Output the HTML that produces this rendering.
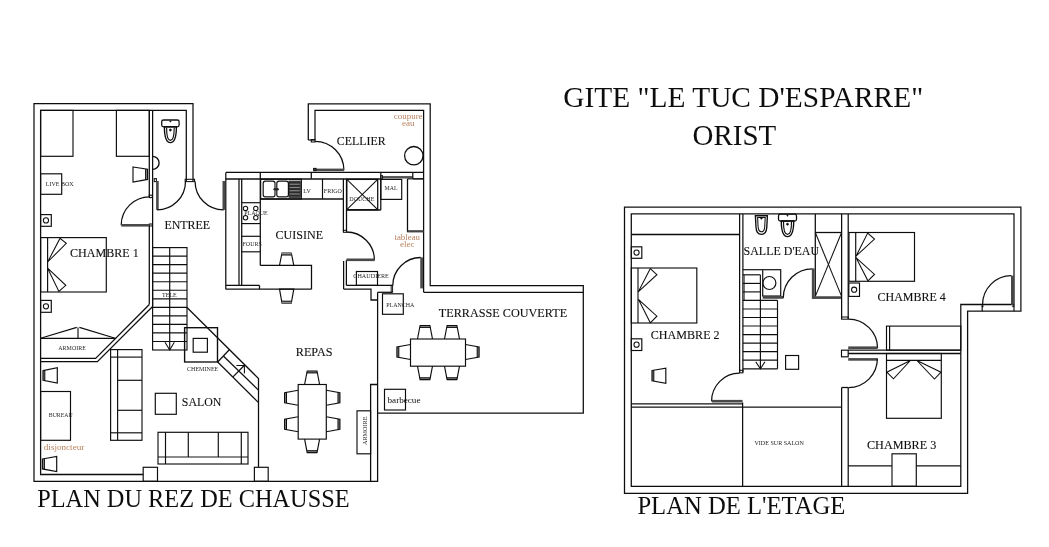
<!DOCTYPE html>
<html><head><meta charset="utf-8"><title>Plan</title>
<style>
html,body{margin:0;padding:0;background:#fff;}
body{width:1049px;height:547px;overflow:hidden;}
svg{display:block;}
text{font-family:"Liberation Serif",serif;}
</style></head><body>
<svg width="1049" height="547" viewBox="0 0 1049 547" style="will-change:transform">
<rect x="0" y="0" width="1049" height="547" fill="#fff"/>
<defs><filter id="soft" x="0" y="0" width="100%" height="100%" filterUnits="userSpaceOnUse"><feGaussianBlur stdDeviation="0.3"/></filter></defs>
<g filter="url(#soft)">
<polyline points="193,181 193,103.7 34,103.7 34,481.3 377.6,481.3 377.6,292.3" fill="none" stroke="#111" stroke-width="1.26" stroke-linejoin="miter"/>
<polyline points="186.3,181 186.3,110.4 40.6,110.4 40.6,474.5 143.2,474.5" fill="none" stroke="#111" stroke-width="1.26" stroke-linejoin="miter"/>
<rect x="185.2" y="179.3" width="9.400000000000006" height="2.299999999999983" rx="0" fill="none" stroke="#111" stroke-width="1.05"/>
<line x1="152.6" y1="110.4" x2="152.6" y2="306.5" stroke="#111" stroke-width="1.26"/>
<line x1="149.3" y1="110.4" x2="149.3" y2="197" stroke="#111" stroke-width="1.26"/>
<line x1="149.3" y1="225" x2="149.3" y2="304.5" stroke="#111" stroke-width="1.26"/>
<rect x="149.3" y="195.2" width="3.0" height="2.4000000000000057" rx="0" fill="none" stroke="#111" stroke-width="1.05"/>
<rect x="149.3" y="224" width="3.0" height="2" rx="0" fill="none" stroke="#111" stroke-width="1.05"/>
<polyline points="149.3,304.5 95.6,358.4 40.6,358.4" fill="none" stroke="#111" stroke-width="1.26" stroke-linejoin="miter"/>
<polyline points="152.6,306.5 97.4,361.6 40.6,361.6" fill="none" stroke="#111" stroke-width="1.26" stroke-linejoin="miter"/>
<path d="M149.60,196.80 A28.4,28.4 0 0 0 121.20,225.20" fill="none" stroke="#111" stroke-width="1.26"/>
<line x1="121.3" y1="225.3" x2="149.3" y2="225.3" stroke="#4a4a4a" stroke-width="2.62"/>
<rect x="154.2" y="178.6" width="2.200000000000017" height="3.0" rx="0" fill="none" stroke="#111" stroke-width="1.05"/>
<line x1="157.4" y1="181" x2="157.4" y2="209.9" stroke="#4a4a4a" stroke-width="2.62"/>
<path d="M157.00,209.90 A28.5,28.5 0 0 0 185.50,181.40" fill="none" stroke="#111" stroke-width="1.26"/>
<line x1="223.8" y1="181" x2="223.8" y2="209.9" stroke="#4a4a4a" stroke-width="2.62"/>
<path d="M223.60,209.90 A28.5,28.5 0 0 1 195.10,181.40" fill="none" stroke="#111" stroke-width="1.26"/>
<text x="164.4" y="229.2" font-size="13" fill="#111" stroke="#111" stroke-width="0.12" text-anchor="start" textLength="45.7" lengthAdjust="spacingAndGlyphs">ENTREE</text>
<rect x="40.6" y="110.4" width="32.4" height="45.900000000000006" rx="0" fill="none" stroke="#111" stroke-width="1.16"/>
<rect x="116.4" y="110.4" width="32.900000000000006" height="45.900000000000006" rx="0" fill="none" stroke="#111" stroke-width="1.16"/>
<rect x="40.6" y="173.8" width="21.1" height="20.5" rx="0" fill="none" stroke="#111" stroke-width="1.16"/>
<text x="45.7" y="186.4" font-size="7" fill="#262626" text-anchor="start" textLength="28" lengthAdjust="spacingAndGlyphs">LIVE BOX</text>
<rect x="40.6" y="214.6" width="10.699999999999996" height="11.700000000000017" rx="0" fill="none" stroke="#111" stroke-width="1.16"/>
<circle cx="45.95" cy="220.45" r="2.6" fill="none" stroke="#111" stroke-width="1.05"/>
<rect x="40.6" y="300.4" width="10.699999999999996" height="11.900000000000034" rx="0" fill="none" stroke="#111" stroke-width="1.16"/>
<circle cx="45.95" cy="306.35" r="2.6" fill="none" stroke="#111" stroke-width="1.05"/>
<polygon points="147.6,169.3 145.6,169 145.6,179.6 147.6,179.4" fill="#8c8c8c" stroke="#888" stroke-width="0.11" stroke-linejoin="miter"/>
<polygon points="133,167 147.6,169.3 147.6,179.4 133,182" fill="none" stroke="#111" stroke-width="1.16" stroke-linejoin="miter"/>
<line x1="145.6" y1="169" x2="145.6" y2="179.6" stroke="#111" stroke-width="1.05"/>
<path d="M152.6,156.4 A6.5,6.5 0 0 1 152.6,169.4" fill="none" stroke="#111" stroke-width="1.37"/>
<rect x="161.70000000000002" y="120.0" width="17.399999999999977" height="6.799999999999997" rx="1.8" fill="none" stroke="#111" stroke-width="1.26"/>
<path d="M164.40,126.80 C164.40,135.49 166.08,142.60 170.40,142.60 C174.72,142.60 176.40,135.49 176.40,126.80 Z" fill="none" stroke="#111" stroke-width="1.37"/>
<path d="M166.60,127.80 C166.60,134.73 167.66,140.40 170.40,140.40 C173.14,140.40 174.20,134.73 174.20,127.80" fill="none" stroke="#111" stroke-width="1.16"/>
<circle cx="170.4" cy="121.4" r="0.6" fill="#111" stroke="#111" stroke-width="0.63"/>
<circle cx="170.4" cy="130.0" r="1.0" fill="#111" stroke="#111" stroke-width="0.73"/>
<rect x="40.6" y="237.6" width="65.69999999999999" height="54.400000000000006" rx="0" fill="none" stroke="#111" stroke-width="1.16"/>
<line x1="47.6" y1="237.6" x2="47.6" y2="292" stroke="#111" stroke-width="1.16"/>
<polygon points="47.6,262 60,238.4 66.3,243.4" fill="none" stroke="#111" stroke-width="1.05" stroke-linejoin="miter"/>
<polygon points="47.6,268.2 58.9,291.5 65.8,285.3" fill="none" stroke="#111" stroke-width="1.05" stroke-linejoin="miter"/>
<text x="70" y="256.7" font-size="13" fill="#111" stroke="#111" stroke-width="0.12" text-anchor="start" textLength="68.8" lengthAdjust="spacingAndGlyphs">CHAMBRE 1</text>
<line x1="40.6" y1="338.3" x2="115.3" y2="338.3" stroke="#111" stroke-width="1.26"/>
<line x1="40.6" y1="338.3" x2="76.8" y2="327.4" stroke="#111" stroke-width="1.16"/>
<line x1="115.3" y1="338.3" x2="79.4" y2="327.4" stroke="#111" stroke-width="1.16"/>
<line x1="78" y1="327.6" x2="78" y2="338.3" stroke="#111" stroke-width="1.16"/>
<text x="58.3" y="349.6" font-size="7" fill="#262626" text-anchor="start" textLength="27.5" lengthAdjust="spacingAndGlyphs">ARMOIRE</text>
<rect x="152.6" y="247.6" width="34.400000000000006" height="102.4" rx="0" fill="none" stroke="#111" stroke-width="1.16"/>
<line x1="152.6" y1="256.13" x2="187" y2="256.13" stroke="#111" stroke-width="1.16"/>
<line x1="152.6" y1="264.67" x2="187" y2="264.67" stroke="#111" stroke-width="1.16"/>
<line x1="152.6" y1="273.2" x2="187" y2="273.2" stroke="#111" stroke-width="1.16"/>
<line x1="152.6" y1="281.73" x2="187" y2="281.73" stroke="#111" stroke-width="1.16"/>
<line x1="152.6" y1="290.27" x2="187" y2="290.27" stroke="#111" stroke-width="1.16"/>
<line x1="152.6" y1="298.8" x2="187" y2="298.8" stroke="#111" stroke-width="1.16"/>
<line x1="152.6" y1="307.33" x2="187" y2="307.33" stroke="#111" stroke-width="1.16"/>
<line x1="152.6" y1="315.87" x2="187" y2="315.87" stroke="#111" stroke-width="1.16"/>
<line x1="152.6" y1="324.4" x2="187" y2="324.4" stroke="#111" stroke-width="1.16"/>
<line x1="152.6" y1="332.93" x2="187" y2="332.93" stroke="#111" stroke-width="1.16"/>
<line x1="152.6" y1="341.47" x2="187" y2="341.47" stroke="#111" stroke-width="1.16"/>
<line x1="169.7" y1="247.6" x2="169.7" y2="350" stroke="#111" stroke-width="1.16"/>
<polyline points="165,342.2 169.7,350 174.3,342.2" fill="none" stroke="#111" stroke-width="1.05" stroke-linejoin="miter"/>
<text x="162" y="296.6" font-size="7" fill="#262626" text-anchor="start" textLength="14.8" lengthAdjust="spacingAndGlyphs">TELE</text>
<polyline points="187,307.5 258.5,378.5 258.5,467.3" fill="none" stroke="#111" stroke-width="1.26" stroke-linejoin="miter"/>
<rect x="184.6" y="327.7" width="32.900000000000006" height="34.30000000000001" rx="0" fill="none" stroke="#111" stroke-width="1.37"/>
<rect x="193.2" y="338.4" width="14.200000000000017" height="13.800000000000011" rx="0" fill="none" stroke="#111" stroke-width="1.16"/>
<text x="187" y="370.8" font-size="7" fill="#262626" text-anchor="start" textLength="31.3" lengthAdjust="spacingAndGlyphs">CHEMINEE</text>
<line x1="217.7" y1="362" x2="258.5" y2="402.6" stroke="#111" stroke-width="1.26"/>
<line x1="223.6" y1="356.2" x2="258.5" y2="390.1" stroke="#111" stroke-width="1.26"/>
<line x1="229.3" y1="349.8" x2="217.7" y2="362" stroke="#111" stroke-width="1.26"/>
<line x1="244.4" y1="365.2" x2="233" y2="376.9" stroke="#111" stroke-width="1.26"/>
<polyline points="236.4,365.4 244.4,365.4 244.4,373.4" fill="none" stroke="#111" stroke-width="1.05" stroke-linejoin="miter"/>
<rect x="143.2" y="467.3" width="14.300000000000011" height="14.0" rx="0" fill="none" stroke="#111" stroke-width="1.16"/>
<rect x="254.4" y="467.3" width="13.799999999999983" height="14.0" rx="0" fill="none" stroke="#111" stroke-width="1.16"/>
<rect x="110.6" y="349.6" width="31.400000000000006" height="90.69999999999999" rx="0" fill="none" stroke="#111" stroke-width="1.16"/>
<line x1="117.6" y1="349.6" x2="117.6" y2="440.3" stroke="#111" stroke-width="1.16"/>
<line x1="110.6" y1="357.1" x2="142" y2="357.1" stroke="#111" stroke-width="1.16"/>
<line x1="117.6" y1="380.3" x2="142" y2="380.3" stroke="#111" stroke-width="1.16"/>
<line x1="117.6" y1="410.3" x2="142" y2="410.3" stroke="#111" stroke-width="1.16"/>
<line x1="110.6" y1="432.8" x2="142" y2="432.8" stroke="#111" stroke-width="1.16"/>
<rect x="155.3" y="393.3" width="21.0" height="21.0" rx="0" fill="none" stroke="#111" stroke-width="1.16"/>
<text x="181.8" y="405.5" font-size="13" fill="#111" stroke="#111" stroke-width="0.12" text-anchor="start" textLength="39.5" lengthAdjust="spacingAndGlyphs">SALON</text>
<rect x="158" y="432.3" width="90" height="31.69999999999999" rx="0" fill="none" stroke="#111" stroke-width="1.16"/>
<line x1="165.5" y1="432.3" x2="165.5" y2="464" stroke="#111" stroke-width="1.16"/>
<line x1="241.3" y1="432.3" x2="241.3" y2="464" stroke="#111" stroke-width="1.16"/>
<line x1="158" y1="457" x2="248" y2="457" stroke="#111" stroke-width="1.16"/>
<line x1="188.3" y1="432.3" x2="188.3" y2="457" stroke="#111" stroke-width="1.16"/>
<line x1="218.3" y1="432.3" x2="218.3" y2="457" stroke="#111" stroke-width="1.16"/>
<rect x="40.6" y="391.5" width="29.9" height="48.80000000000001" rx="0" fill="none" stroke="#111" stroke-width="1.16"/>
<text x="48.8" y="416.6" font-size="7" fill="#262626" text-anchor="start" textLength="23.8" lengthAdjust="spacingAndGlyphs">BUREAU</text>
<polygon points="43,370.6 44.8,370.4 44.8,380.5 43,380.2" fill="#8c8c8c" stroke="#888" stroke-width="0.11" stroke-linejoin="miter"/>
<polygon points="43,370.6 57.3,367.6 57.3,383 43,380.2" fill="none" stroke="#111" stroke-width="1.16" stroke-linejoin="miter"/>
<line x1="44.8" y1="370.4" x2="44.8" y2="380.5" stroke="#111" stroke-width="1.05"/>
<polygon points="42.4,459 44.4,458.8 44.4,469.2 42.4,468.9" fill="#8c8c8c" stroke="#888" stroke-width="0.11" stroke-linejoin="miter"/>
<polygon points="42.4,459 56.7,456.4 56.7,471.6 42.4,468.9" fill="none" stroke="#111" stroke-width="1.16" stroke-linejoin="miter"/>
<line x1="44.4" y1="458.8" x2="44.4" y2="469.2" stroke="#111" stroke-width="1.05"/>
<text x="43.8" y="450.3" font-size="9" fill="#b9805f" text-anchor="start" textLength="40.5" lengthAdjust="spacingAndGlyphs">disjoncteur</text>
<line x1="225.8" y1="172.4" x2="423.6" y2="172.4" stroke="#111" stroke-width="1.26"/>
<line x1="225.8" y1="172.4" x2="225.8" y2="289.2" stroke="#111" stroke-width="1.26"/>
<line x1="225.8" y1="179" x2="380.8" y2="179" stroke="#111" stroke-width="1.26"/>
<line x1="239.0" y1="179" x2="239.0" y2="285.4" stroke="#111" stroke-width="1.26"/>
<line x1="241.7" y1="179" x2="241.7" y2="285.4" stroke="#111" stroke-width="1.26"/>
<line x1="260.3" y1="172.4" x2="260.3" y2="265.5" stroke="#111" stroke-width="1.26"/>
<line x1="311.3" y1="172.4" x2="311.3" y2="178.8" stroke="#111" stroke-width="1.26"/>
<line x1="225.8" y1="285.4" x2="259.5" y2="285.4" stroke="#111" stroke-width="1.26"/>
<line x1="225.8" y1="289.2" x2="311.5" y2="289.2" stroke="#111" stroke-width="1.26"/>
<line x1="259.5" y1="285.4" x2="259.5" y2="289.2" stroke="#111" stroke-width="1.26"/>
<polyline points="260.3,265.4 311.5,265.4 311.5,289.2" fill="none" stroke="#111" stroke-width="1.26" stroke-linejoin="miter"/>
<line x1="241.3" y1="202.7" x2="260" y2="202.7" stroke="#111" stroke-width="1.16"/>
<line x1="241.3" y1="223.6" x2="260" y2="223.6" stroke="#111" stroke-width="1.16"/>
<line x1="241.3" y1="236.3" x2="260" y2="236.3" stroke="#111" stroke-width="1.16"/>
<line x1="241.3" y1="251.8" x2="260" y2="251.8" stroke="#111" stroke-width="1.16"/>
<circle cx="245.5" cy="208.4" r="2.2" fill="none" stroke="#111" stroke-width="1.05"/>
<circle cx="255.8" cy="208.4" r="2.2" fill="none" stroke="#111" stroke-width="1.05"/>
<circle cx="245.5" cy="217.7" r="2.2" fill="none" stroke="#111" stroke-width="1.05"/>
<circle cx="255.8" cy="217.7" r="2.2" fill="none" stroke="#111" stroke-width="1.05"/>
<text x="244.2" y="215" font-size="7" fill="#262626" text-anchor="start" textLength="23.6" lengthAdjust="spacingAndGlyphs">PLAQUE</text>
<text x="242.5" y="246.3" font-size="7" fill="#262626" text-anchor="start" textLength="19.3" lengthAdjust="spacingAndGlyphs">FOURS</text>
<rect x="260.6" y="179.2" width="40.69999999999999" height="19.80000000000001" rx="0" fill="none" stroke="#111" stroke-width="1.26"/>
<rect x="263.2" y="181.1" width="11.800000000000011" height="15.800000000000011" rx="2.2" fill="none" stroke="#111" stroke-width="1.16"/>
<rect x="276.8" y="181.1" width="11.599999999999966" height="15.800000000000011" rx="2.2" fill="none" stroke="#111" stroke-width="1.16"/>
<rect x="289" y="181.1" width="11.199999999999989" height="16.200000000000017" rx="0" fill="#8a8a8a" stroke="#111" stroke-width="0.84"/>
<line x1="289" y1="182.6" x2="300.2" y2="182.6" stroke="#2a2a2a" stroke-width="2.1"/>
<line x1="289" y1="185.85" x2="300.2" y2="185.85" stroke="#2a2a2a" stroke-width="2.1"/>
<line x1="289" y1="189.1" x2="300.2" y2="189.1" stroke="#2a2a2a" stroke-width="2.1"/>
<line x1="289" y1="192.35" x2="300.2" y2="192.35" stroke="#2a2a2a" stroke-width="2.1"/>
<line x1="289" y1="195.6" x2="300.2" y2="195.6" stroke="#2a2a2a" stroke-width="2.1"/>
<ellipse cx="276.1" cy="189.2" rx="3" ry="1.3" fill="#222"/>
<line x1="260.6" y1="199" x2="343" y2="199" stroke="#111" stroke-width="1.26"/>
<text x="303.3" y="192.6" font-size="7" fill="#262626" text-anchor="start" textLength="7.5" lengthAdjust="spacingAndGlyphs">LV</text>
<line x1="322.5" y1="178.8" x2="322.5" y2="198.8" stroke="#111" stroke-width="1.16"/>
<text x="323.8" y="192.6" font-size="7" fill="#262626" text-anchor="start" textLength="18" lengthAdjust="spacingAndGlyphs">FRIGO</text>
<line x1="343.4" y1="178.8" x2="343.4" y2="231.3" stroke="#111" stroke-width="1.26"/>
<line x1="346.5" y1="178.8" x2="346.5" y2="231.3" stroke="#111" stroke-width="1.26"/>
<rect x="343.4" y="230.3" width="3.1000000000000227" height="2.0" rx="0" fill="none" stroke="#111" stroke-width="1.05"/>
<line x1="343.6" y1="261" x2="343.6" y2="289" stroke="#111" stroke-width="1.26"/>
<line x1="346.4" y1="260" x2="346.4" y2="285.4" stroke="#111" stroke-width="1.26"/>
<path d="M346.40,232.00 A28,28 0 0 1 374.40,260.00" fill="none" stroke="#111" stroke-width="1.26"/>
<line x1="346.4" y1="259.8" x2="374.8" y2="259.8" stroke="#4a4a4a" stroke-width="2.62"/>
<rect x="346.8" y="179.4" width="30.899999999999977" height="30.299999999999983" rx="0" fill="none" stroke="#111" stroke-width="1.26"/>
<line x1="346.8" y1="179.4" x2="377.7" y2="209.7" stroke="#111" stroke-width="1.05"/>
<line x1="346.8" y1="209.7" x2="377.7" y2="179.4" stroke="#111" stroke-width="1.05"/>
<text x="349.3" y="200.6" font-size="7" fill="#262626" text-anchor="start" textLength="25" lengthAdjust="spacingAndGlyphs">DOUCHE</text>
<line x1="380.8" y1="172.4" x2="380.8" y2="210" stroke="#111" stroke-width="1.26"/>
<line x1="346.8" y1="210" x2="380.8" y2="210" stroke="#111" stroke-width="1.47"/>
<rect x="380.8" y="179.4" width="20.899999999999977" height="20.0" rx="0" fill="none" stroke="#111" stroke-width="1.16"/>
<text x="384.5" y="190" font-size="7" fill="#262626" text-anchor="start" textLength="13" lengthAdjust="spacingAndGlyphs">MAL</text>
<polygon points="282,253 291.3,253 293.8,265.5 279.5,265.5" fill="none" stroke="#111" stroke-width="1.16" stroke-linejoin="miter"/>
<polygon points="282,253 291.3,253 291.7,255 281.6,255" fill="#8c8c8c" stroke="#888" stroke-width="0.11" stroke-linejoin="miter"/>
<line x1="281.6" y1="255" x2="291.7" y2="255" stroke="#111" stroke-width="1.05"/>
<polygon points="279.5,289.2 293.8,289.2 291.3,303.2 282,303.2" fill="none" stroke="#111" stroke-width="1.16" stroke-linejoin="miter"/>
<polygon points="282,303.2 291.3,303.2 291.7,301.2 281.6,301.2" fill="#8c8c8c" stroke="#888" stroke-width="0.11" stroke-linejoin="miter"/>
<line x1="281.6" y1="301.2" x2="291.7" y2="301.2" stroke="#111" stroke-width="1.05"/>
<text x="275.5" y="238.5" font-size="13" fill="#111" stroke="#111" stroke-width="0.12" text-anchor="start" textLength="47.5" lengthAdjust="spacingAndGlyphs">CUISINE</text>
<polyline points="308.3,140 308.3,103.8 430.2,103.8 430.2,285.6 583.3,285.6 583.3,413.2 377.6,413.2" fill="none" stroke="#111" stroke-width="1.26" stroke-linejoin="miter"/>
<polyline points="315,140 315,110.4 423.6,110.4 423.6,292.3" fill="none" stroke="#111" stroke-width="1.26" stroke-linejoin="miter"/>
<line x1="308.3" y1="140" x2="315" y2="140" stroke="#111" stroke-width="1.26"/>
<rect x="311.3" y="139.6" width="3.6999999999999886" height="2.4000000000000057" rx="0" fill="none" stroke="#111" stroke-width="1.05"/>
<path d="M315.00,141.30 A28.9,28.9 0 0 1 343.90,170.20" fill="none" stroke="#111" stroke-width="1.26"/>
<line x1="314" y1="169.9" x2="344" y2="169.9" stroke="#4a4a4a" stroke-width="2.62"/>
<rect x="313.6" y="168.4" width="2.3999999999999773" height="2.1999999999999886" rx="0" fill="none" stroke="#111" stroke-width="1.05"/>
<line x1="381.4" y1="177.3" x2="412.8" y2="177.3" stroke="#555" stroke-width="2.52"/>
<line x1="412.8" y1="172.4" x2="412.8" y2="178.8" stroke="#111" stroke-width="1.26"/>
<line x1="412.8" y1="178.8" x2="423.6" y2="178.8" stroke="#111" stroke-width="1.26"/>
<rect x="380.8" y="175.6" width="1.8000000000000114" height="3.200000000000017" rx="0" fill="none" stroke="#111" stroke-width="0.84"/>
<circle cx="413.8" cy="155.7" r="9.2" fill="none" stroke="#111" stroke-width="1.26"/>
<text x="393.8" y="118.8" font-size="9" fill="#b9805f" text-anchor="start" textLength="28.8" lengthAdjust="spacingAndGlyphs">coupure</text>
<text x="402" y="126.3" font-size="9" fill="#b9805f" text-anchor="start" textLength="12.5" lengthAdjust="spacingAndGlyphs">eau</text>
<text x="336.8" y="145.2" font-size="13" fill="#111" stroke="#111" stroke-width="0.12" text-anchor="start" textLength="48.8" lengthAdjust="spacingAndGlyphs">CELLIER</text>
<polyline points="407.5,178.9 407.5,231.5 423.6,231.5" fill="none" stroke="#111" stroke-width="1.26" stroke-linejoin="miter"/>
<line x1="407.5" y1="178.9" x2="423.6" y2="178.9" stroke="#111" stroke-width="1.05"/>
<line x1="407.5" y1="231.2" x2="423.6" y2="231.2" stroke="#444" stroke-width="1.89"/>
<text x="394.5" y="240" font-size="9" fill="#b9805f" text-anchor="start" textLength="25.5" lengthAdjust="spacingAndGlyphs">tableau</text>
<text x="400" y="247.2" font-size="9" fill="#b9805f" text-anchor="start" textLength="14.5" lengthAdjust="spacingAndGlyphs">elec</text>
<line x1="346.4" y1="285.4" x2="393" y2="285.4" stroke="#111" stroke-width="1.26"/>
<polyline points="343.6,289.2 371,289.2 371,300 377.6,300" fill="none" stroke="#111" stroke-width="1.26" stroke-linejoin="miter"/>
<rect x="356.4" y="271.5" width="21.100000000000023" height="13.899999999999977" rx="0" fill="none" stroke="#111" stroke-width="1.16"/>
<text x="353.3" y="278.3" font-size="7" fill="#262626" text-anchor="start" textLength="35.5" lengthAdjust="spacingAndGlyphs">CHAUDIERE</text>
<rect x="391.2" y="285.4" width="1.400000000000034" height="6.900000000000034" rx="0" fill="none" stroke="#111" stroke-width="0.95"/>
<path d="M392.80,285.50 A28,28 0 0 1 420.80,257.50" fill="none" stroke="#111" stroke-width="1.26"/>
<line x1="421.6" y1="257.4" x2="421.6" y2="288.4" stroke="#4a4a4a" stroke-width="2.73"/>
<line x1="377.6" y1="292.3" x2="392" y2="292.3" stroke="#111" stroke-width="1.26"/>
<line x1="423.6" y1="292.3" x2="583.3" y2="292.3" stroke="#111" stroke-width="1.26"/>
<rect x="382.5" y="293.8" width="20.80000000000001" height="20.5" rx="0" fill="none" stroke="#111" stroke-width="1.16"/>
<text x="386.3" y="306.8" font-size="7" fill="#262626" text-anchor="start" textLength="28" lengthAdjust="spacingAndGlyphs">PLANCHA</text>
<text x="438.8" y="316.7" font-size="13" fill="#111" stroke="#111" stroke-width="0.12" text-anchor="start" textLength="128.3" lengthAdjust="spacingAndGlyphs">TERRASSE COUVERTE</text>
<rect x="410.5" y="339" width="55.0" height="27.19999999999999" rx="0" fill="none" stroke="#111" stroke-width="1.16"/>
<polygon points="420.1,325.5 429.9,325.5 430.2,327.4 419.8,327.4" fill="#8c8c8c" stroke="#888" stroke-width="0.11" stroke-linejoin="miter"/>
<polyline points="417.5,339 420.1,325.5 429.9,325.5 432.5,339" fill="none" stroke="#111" stroke-width="1.16" stroke-linejoin="miter"/>
<line x1="419.8" y1="327.4" x2="430.2" y2="327.4" stroke="#111" stroke-width="1.05"/>
<polygon points="447.1,325.5 456.9,325.5 457.2,327.4 446.8,327.4" fill="#8c8c8c" stroke="#888" stroke-width="0.11" stroke-linejoin="miter"/>
<polyline points="444.5,339 447.1,325.5 456.9,325.5 459.5,339" fill="none" stroke="#111" stroke-width="1.16" stroke-linejoin="miter"/>
<line x1="446.8" y1="327.4" x2="457.2" y2="327.4" stroke="#111" stroke-width="1.05"/>
<polygon points="420.1,379.7 429.9,379.7 430.2,377.8 419.8,377.8" fill="#8c8c8c" stroke="#888" stroke-width="0.11" stroke-linejoin="miter"/>
<polyline points="417.5,366.2 420.1,379.7 429.9,379.7 432.5,366.2" fill="none" stroke="#111" stroke-width="1.16" stroke-linejoin="miter"/>
<line x1="419.8" y1="377.8" x2="430.2" y2="377.8" stroke="#111" stroke-width="1.05"/>
<polygon points="447.1,379.7 456.9,379.7 457.2,377.8 446.8,377.8" fill="#8c8c8c" stroke="#888" stroke-width="0.11" stroke-linejoin="miter"/>
<polyline points="444.5,366.2 447.1,379.7 456.9,379.7 459.5,366.2" fill="none" stroke="#111" stroke-width="1.16" stroke-linejoin="miter"/>
<line x1="446.8" y1="377.8" x2="457.2" y2="377.8" stroke="#111" stroke-width="1.05"/>
<polygon points="396.9,347.0 396.9,357.0 398.79999999999995,357.3 398.79999999999995,346.7" fill="#8c8c8c" stroke="#888" stroke-width="0.11" stroke-linejoin="miter"/>
<polyline points="410.5,344.5 396.9,347.0 396.9,357.0 410.5,359.5" fill="none" stroke="#111" stroke-width="1.16" stroke-linejoin="miter"/>
<line x1="398.79999999999995" y1="346.7" x2="398.79999999999995" y2="357.3" stroke="#111" stroke-width="1.05"/>
<polygon points="479.1,347.0 479.1,357.0 477.20000000000005,357.3 477.20000000000005,346.7" fill="#8c8c8c" stroke="#888" stroke-width="0.11" stroke-linejoin="miter"/>
<polyline points="465.5,344.5 479.1,347.0 479.1,357.0 465.5,359.5" fill="none" stroke="#111" stroke-width="1.16" stroke-linejoin="miter"/>
<line x1="477.20000000000005" y1="346.7" x2="477.20000000000005" y2="357.3" stroke="#111" stroke-width="1.05"/>
<rect x="384.5" y="389.3" width="21.0" height="20.69999999999999" rx="0" fill="none" stroke="#111" stroke-width="1.16"/>
<text x="387.5" y="402.5" font-size="9" fill="#111" text-anchor="start" textLength="33" lengthAdjust="spacingAndGlyphs">barbecue</text>
<polyline points="377.6,384.5 370.6,384.5 370.6,481.3" fill="none" stroke="#111" stroke-width="1.26" stroke-linejoin="miter"/>
<rect x="357" y="410.8" width="13.600000000000023" height="43.0" rx="0" fill="none" stroke="#111" stroke-width="1.16"/>
<text x="366.9" y="445" font-size="7" fill="#262626" text-anchor="start" textLength="28.5" lengthAdjust="spacingAndGlyphs" transform="rotate(-90 366.9 445)">ARMOIRE</text>
<text x="295.8" y="356.2" font-size="13" fill="#111" stroke="#111" stroke-width="0.12" text-anchor="start" textLength="36.8" lengthAdjust="spacingAndGlyphs">REPAS</text>
<rect x="298.2" y="384.5" width="28.100000000000023" height="54.60000000000002" rx="0" fill="none" stroke="#111" stroke-width="1.16"/>
<polygon points="307.20000000000005,371.0 317.0,371.0 317.3,372.9 306.90000000000003,372.9" fill="#8c8c8c" stroke="#888" stroke-width="0.11" stroke-linejoin="miter"/>
<polyline points="304.6,384.5 307.20000000000005,371.0 317.0,371.0 319.6,384.5" fill="none" stroke="#111" stroke-width="1.16" stroke-linejoin="miter"/>
<line x1="306.90000000000003" y1="372.9" x2="317.3" y2="372.9" stroke="#111" stroke-width="1.05"/>
<polygon points="307.20000000000005,452.6 317.0,452.6 317.3,450.70000000000005 306.90000000000003,450.70000000000005" fill="#8c8c8c" stroke="#888" stroke-width="0.11" stroke-linejoin="miter"/>
<polyline points="304.6,439.1 307.20000000000005,452.6 317.0,452.6 319.6,439.1" fill="none" stroke="#111" stroke-width="1.16" stroke-linejoin="miter"/>
<line x1="306.90000000000003" y1="450.70000000000005" x2="317.3" y2="450.70000000000005" stroke="#111" stroke-width="1.05"/>
<polygon points="284.59999999999997,392.7 284.59999999999997,402.7 286.49999999999994,403.0 286.49999999999994,392.4" fill="#8c8c8c" stroke="#888" stroke-width="0.11" stroke-linejoin="miter"/>
<polyline points="298.2,390.2 284.59999999999997,392.7 284.59999999999997,402.7 298.2,405.2" fill="none" stroke="#111" stroke-width="1.16" stroke-linejoin="miter"/>
<line x1="286.49999999999994" y1="392.4" x2="286.49999999999994" y2="403.0" stroke="#111" stroke-width="1.05"/>
<polygon points="284.59999999999997,419.3 284.59999999999997,429.3 286.49999999999994,429.6 286.49999999999994,419.0" fill="#8c8c8c" stroke="#888" stroke-width="0.11" stroke-linejoin="miter"/>
<polyline points="298.2,416.8 284.59999999999997,419.3 284.59999999999997,429.3 298.2,431.8" fill="none" stroke="#111" stroke-width="1.16" stroke-linejoin="miter"/>
<line x1="286.49999999999994" y1="419.0" x2="286.49999999999994" y2="429.6" stroke="#111" stroke-width="1.05"/>
<polygon points="339.90000000000003,392.7 339.90000000000003,402.7 338.00000000000006,403.0 338.00000000000006,392.4" fill="#8c8c8c" stroke="#888" stroke-width="0.11" stroke-linejoin="miter"/>
<polyline points="326.3,390.2 339.90000000000003,392.7 339.90000000000003,402.7 326.3,405.2" fill="none" stroke="#111" stroke-width="1.16" stroke-linejoin="miter"/>
<line x1="338.00000000000006" y1="392.4" x2="338.00000000000006" y2="403.0" stroke="#111" stroke-width="1.05"/>
<polygon points="339.90000000000003,419.3 339.90000000000003,429.3 338.00000000000006,429.6 338.00000000000006,419.0" fill="#8c8c8c" stroke="#888" stroke-width="0.11" stroke-linejoin="miter"/>
<polyline points="326.3,416.8 339.90000000000003,419.3 339.90000000000003,429.3 326.3,431.8" fill="none" stroke="#111" stroke-width="1.16" stroke-linejoin="miter"/>
<line x1="338.00000000000006" y1="419.0" x2="338.00000000000006" y2="429.6" stroke="#111" stroke-width="1.05"/>
<text x="37.2" y="506.7" font-size="25.5" fill="#111" text-anchor="start" textLength="312.4" lengthAdjust="spacingAndGlyphs">PLAN DU REZ DE CHAUSSE</text>
<text x="563.2" y="107" font-size="30" fill="#111" text-anchor="start" textLength="360" lengthAdjust="spacingAndGlyphs">GITE &quot;LE TUC D'ESPARRE&quot;</text>
<text x="692.6" y="144.5" font-size="30" fill="#111" text-anchor="start" textLength="83.6" lengthAdjust="spacingAndGlyphs">ORIST</text>
<polygon points="624.5,207.2 1020.9,207.2 1020.9,311.2 967.6,311.2 967.6,493.3 624.5,493.3" fill="none" stroke="#111" stroke-width="1.26" stroke-linejoin="miter"/>
<polygon points="631.3,213.9 1014,213.9 1014,304.5 960.8,304.5 960.8,486.3 631.3,486.3" fill="none" stroke="#111" stroke-width="1.26" stroke-linejoin="miter"/>
<line x1="631.3" y1="234.5" x2="739.5" y2="234.5" stroke="#111" stroke-width="1.26"/>
<line x1="739.6" y1="213.9" x2="739.6" y2="372.3" stroke="#111" stroke-width="1.26"/>
<line x1="742.9" y1="213.9" x2="742.9" y2="372.3" stroke="#111" stroke-width="1.26"/>
<rect x="739.6" y="370.3" width="3.2999999999999545" height="2.5" rx="0" fill="none" stroke="#111" stroke-width="1.05"/>
<line x1="742.6" y1="402.5" x2="742.6" y2="486.3" stroke="#111" stroke-width="1.26"/>
<line x1="631.3" y1="403.8" x2="742.6" y2="403.8" stroke="#111" stroke-width="1.26"/>
<line x1="631.3" y1="407.2" x2="841.5" y2="407.2" stroke="#111" stroke-width="1.26"/>
<path d="M739.60,373.20 A28,28 0 0 0 711.60,401.20" fill="none" stroke="#111" stroke-width="1.26"/>
<line x1="711.8" y1="401.2" x2="742.6" y2="401.2" stroke="#4a4a4a" stroke-width="2.62"/>
<rect x="631.3" y="246.8" width="10.5" height="11.5" rx="0" fill="none" stroke="#111" stroke-width="1.16"/>
<circle cx="636.55" cy="252.55" r="2.6" fill="none" stroke="#111" stroke-width="1.05"/>
<rect x="631.3" y="338.8" width="10.5" height="11.699999999999989" rx="0" fill="none" stroke="#111" stroke-width="1.16"/>
<circle cx="636.55" cy="344.65" r="2.6" fill="none" stroke="#111" stroke-width="1.05"/>
<rect x="631.3" y="268" width="65.5" height="55" rx="0" fill="none" stroke="#111" stroke-width="1.16"/>
<line x1="638" y1="268" x2="638" y2="323" stroke="#111" stroke-width="1.16"/>
<polygon points="638.2,291.9 650.3,268.6 656.9,274.7" fill="none" stroke="#111" stroke-width="1.05" stroke-linejoin="miter"/>
<polygon points="638.4,299.3 650.3,322.8 656.9,316.2" fill="none" stroke="#111" stroke-width="1.05" stroke-linejoin="miter"/>
<text x="650.8" y="339.2" font-size="13" fill="#111" stroke="#111" stroke-width="0.12" text-anchor="start" textLength="68.8" lengthAdjust="spacingAndGlyphs">CHAMBRE 2</text>
<polygon points="652,370.5 653.8,370.3 653.8,381 652,380.8" fill="#8c8c8c" stroke="#888" stroke-width="0.11" stroke-linejoin="miter"/>
<polygon points="652,370.5 665.8,368.3 665.8,383.3 652,380.8" fill="none" stroke="#111" stroke-width="1.16" stroke-linejoin="miter"/>
<line x1="653.8" y1="370.3" x2="653.8" y2="381" stroke="#111" stroke-width="1.05"/>
<path d="M755.4,215.8 L756.0,226.96 Q756.4,234.4 761.4,234.4 Q766.4,234.4 766.8,226.96 L767.4,215.8 Z" fill="none" stroke="#111" stroke-width="1.37"/>
<path d="M757.6,217.4 L758.0,225.4 Q758.2,231.8 761.4,231.8 Q764.5999999999999,231.8 764.8,225.4 L765.1999999999999,217.4 Z" fill="none" stroke="#111" stroke-width="1.05"/>
<circle cx="761.4" cy="218.4" r="0.8" fill="#111" stroke="#111" stroke-width="0.63"/>
<rect x="778.5" y="214.2" width="18.0" height="6.800000000000011" rx="1.8" fill="none" stroke="#111" stroke-width="1.26"/>
<path d="M781.30,221.00 C781.30,229.58 783.04,236.60 787.50,236.60 C791.96,236.60 793.70,229.58 793.70,221.00 Z" fill="none" stroke="#111" stroke-width="1.37"/>
<path d="M783.50,222.00 C783.50,228.82 784.62,234.40 787.50,234.40 C790.38,234.40 791.50,228.82 791.50,222.00" fill="none" stroke="#111" stroke-width="1.16"/>
<circle cx="787.5" cy="215.6" r="0.6" fill="#111" stroke="#111" stroke-width="0.63"/>
<circle cx="787.5" cy="224.2" r="1.0" fill="#111" stroke="#111" stroke-width="0.73"/>
<text x="743.6" y="254.5" font-size="13" fill="#111" stroke="#111" stroke-width="0.12" text-anchor="start" textLength="75.5" lengthAdjust="spacingAndGlyphs">SALLE D'EAU</text>
<line x1="742.9" y1="269.7" x2="762.7" y2="269.7" stroke="#111" stroke-width="1.16"/>
<line x1="742.9" y1="274.8" x2="760.4" y2="274.8" stroke="#111" stroke-width="1.16"/>
<line x1="742.9" y1="283.4" x2="760.4" y2="283.4" stroke="#111" stroke-width="1.16"/>
<line x1="742.9" y1="291.9" x2="760.4" y2="291.9" stroke="#111" stroke-width="1.16"/>
<line x1="742.9" y1="300.4" x2="777.5" y2="300.4" stroke="#111" stroke-width="1.16"/>
<line x1="742.9" y1="309" x2="777.5" y2="309" stroke="#111" stroke-width="1.16"/>
<line x1="742.9" y1="317.5" x2="777.5" y2="317.5" stroke="#111" stroke-width="1.16"/>
<line x1="742.9" y1="326" x2="777.5" y2="326" stroke="#111" stroke-width="1.16"/>
<line x1="742.9" y1="334.6" x2="777.5" y2="334.6" stroke="#111" stroke-width="1.16"/>
<line x1="742.9" y1="343.1" x2="777.5" y2="343.1" stroke="#111" stroke-width="1.16"/>
<line x1="742.9" y1="351.6" x2="777.5" y2="351.6" stroke="#111" stroke-width="1.16"/>
<line x1="742.9" y1="360.2" x2="777.5" y2="360.2" stroke="#111" stroke-width="1.16"/>
<line x1="742.9" y1="368.8" x2="777.5" y2="368.8" stroke="#111" stroke-width="1.16"/>
<line x1="760.4" y1="274.8" x2="760.4" y2="368.8" stroke="#111" stroke-width="1.16"/>
<line x1="744.2" y1="274.8" x2="744.2" y2="300.4" stroke="#111" stroke-width="0.84"/>
<line x1="777.5" y1="300.4" x2="777.5" y2="368.8" stroke="#111" stroke-width="1.16"/>
<polyline points="755.8,361.9 760.4,368.8 764.9,361.9" fill="none" stroke="#111" stroke-width="1.05" stroke-linejoin="miter"/>
<rect x="762.7" y="269.7" width="18.0" height="26.30000000000001" rx="0" fill="none" stroke="#111" stroke-width="1.16"/>
<circle cx="769.4" cy="283" r="6.5" fill="none" stroke="#111" stroke-width="1.16"/>
<line x1="762.7" y1="297.4" x2="783.5" y2="297.4" stroke="#4a4a4a" stroke-width="2.73"/>
<path d="M783.30,297.80 A29,29 0 0 1 812.30,268.80" fill="none" stroke="#111" stroke-width="1.26"/>
<line x1="813.2" y1="268.4" x2="813.2" y2="298.6" stroke="#4a4a4a" stroke-width="2.73"/>
<line x1="815.3" y1="213.9" x2="815.3" y2="296.4" stroke="#111" stroke-width="1.26"/>
<line x1="815.3" y1="232.5" x2="841.6" y2="232.5" stroke="#111" stroke-width="1.26"/>
<line x1="815.3" y1="232.5" x2="841.6" y2="296.4" stroke="#111" stroke-width="1.05"/>
<line x1="841.6" y1="232.5" x2="815.3" y2="296.4" stroke="#111" stroke-width="1.05"/>
<line x1="812" y1="297.6" x2="841.6" y2="297.6" stroke="#4a4a4a" stroke-width="2.73"/>
<line x1="841.6" y1="213.9" x2="841.6" y2="319" stroke="#111" stroke-width="1.26"/>
<line x1="848.2" y1="213.9" x2="848.2" y2="319" stroke="#111" stroke-width="1.26"/>
<rect x="841.6" y="317" width="6.600000000000023" height="2.1999999999999886" rx="0" fill="none" stroke="#111" stroke-width="1.05"/>
<line x1="841.6" y1="387.5" x2="841.6" y2="486.3" stroke="#111" stroke-width="1.26"/>
<line x1="848.2" y1="387.5" x2="848.2" y2="486.3" stroke="#111" stroke-width="1.26"/>
<line x1="841.6" y1="387.5" x2="848.2" y2="387.5" stroke="#111" stroke-width="1.26"/>
<rect x="849" y="232.5" width="65.5" height="48.80000000000001" rx="0" fill="none" stroke="#111" stroke-width="1.16"/>
<line x1="855.7" y1="232.5" x2="855.7" y2="281.3" stroke="#111" stroke-width="1.16"/>
<polygon points="856,256.2 867.7,233.1 874.5,239.1" fill="none" stroke="#111" stroke-width="1.05" stroke-linejoin="miter"/>
<polygon points="856,257.6 867.9,280.8 874.5,274.4" fill="none" stroke="#111" stroke-width="1.05" stroke-linejoin="miter"/>
<rect x="848.8" y="283" width="10.700000000000045" height="13.399999999999977" rx="0" fill="none" stroke="#111" stroke-width="1.16"/>
<circle cx="854.15" cy="289.7" r="2.6" fill="none" stroke="#111" stroke-width="1.05"/>
<text x="877.5" y="301.0" font-size="13" fill="#111" stroke="#111" stroke-width="0.12" text-anchor="start" textLength="68.3" lengthAdjust="spacingAndGlyphs">CHAMBRE 4</text>
<rect x="886.5" y="326.1" width="74.29999999999995" height="24.099999999999966" rx="0" fill="none" stroke="#111" stroke-width="1.16"/>
<line x1="889.6" y1="326.1" x2="889.6" y2="350.2" stroke="#111" stroke-width="1.16"/>
<path d="M848.40,319.10 A29.2,29.2 0 0 1 877.60,348.30" fill="none" stroke="#111" stroke-width="1.26"/>
<line x1="848.2" y1="347.7" x2="877.4" y2="347.7" stroke="#4a4a4a" stroke-width="2.62"/>
<rect x="841.5" y="350.2" width="6.7000000000000455" height="6.600000000000023" rx="0" fill="none" stroke="#111" stroke-width="1.16"/>
<line x1="848.2" y1="350.2" x2="960.8" y2="350.2" stroke="#111" stroke-width="1.26"/>
<line x1="848.2" y1="353.5" x2="960.8" y2="353.5" stroke="#111" stroke-width="1.26"/>
<line x1="848.2" y1="359.4" x2="877.4" y2="359.4" stroke="#4a4a4a" stroke-width="2.62"/>
<path d="M877.40,358.60 A29,29 0 0 1 848.40,387.60" fill="none" stroke="#111" stroke-width="1.26"/>
<rect x="886.5" y="353.5" width="54.799999999999955" height="64.80000000000001" rx="0" fill="none" stroke="#111" stroke-width="1.16"/>
<line x1="886.5" y1="360.3" x2="941.3" y2="360.3" stroke="#111" stroke-width="1.16"/>
<polygon points="910.4,360.5 886.8,372.2 893.5,378.8" fill="none" stroke="#111" stroke-width="1.05" stroke-linejoin="miter"/>
<polygon points="916.9,360.5 941,372.2 934.5,379" fill="none" stroke="#111" stroke-width="1.05" stroke-linejoin="miter"/>
<text x="867" y="448.5" font-size="13" fill="#111" stroke="#111" stroke-width="0.12" text-anchor="start" textLength="69.3" lengthAdjust="spacingAndGlyphs">CHAMBRE 3</text>
<line x1="848.2" y1="465.9" x2="892" y2="465.9" stroke="#111" stroke-width="1.26"/>
<line x1="916.3" y1="465.9" x2="960.8" y2="465.9" stroke="#111" stroke-width="1.26"/>
<rect x="892" y="453.8" width="24.299999999999955" height="32.5" rx="0" fill="none" stroke="#111" stroke-width="1.16"/>
<rect x="785.6" y="355.5" width="13.0" height="13.800000000000011" rx="0" fill="none" stroke="#111" stroke-width="1.16"/>
<text x="754.5" y="445" font-size="7" fill="#262626" text-anchor="start" textLength="49.3" lengthAdjust="spacingAndGlyphs">VIDE SUR SALON</text>
<path d="M982.60,304.50 A28.8,28.8 0 0 1 1011.40,275.70" fill="none" stroke="#111" stroke-width="1.26"/>
<line x1="1012.4" y1="275.7" x2="1012.4" y2="305" stroke="#444" stroke-width="2.73"/>
<line x1="982.2" y1="304.5" x2="982.2" y2="311.2" stroke="#111" stroke-width="1.16"/>
<line x1="1014" y1="304.5" x2="1014" y2="311.2" stroke="#111" stroke-width="1.16"/>
<circle cx="982.6" cy="306.3" r="0.8" fill="#222" stroke="#111" stroke-width="0.53"/>
<circle cx="1013.2" cy="306.3" r="0.8" fill="#222" stroke="#111" stroke-width="0.53"/>
<text x="637.4" y="513.8" font-size="25.5" fill="#111" text-anchor="start" textLength="208" lengthAdjust="spacingAndGlyphs">PLAN DE L'ETAGE</text>
</g>
</svg>
</body></html>
